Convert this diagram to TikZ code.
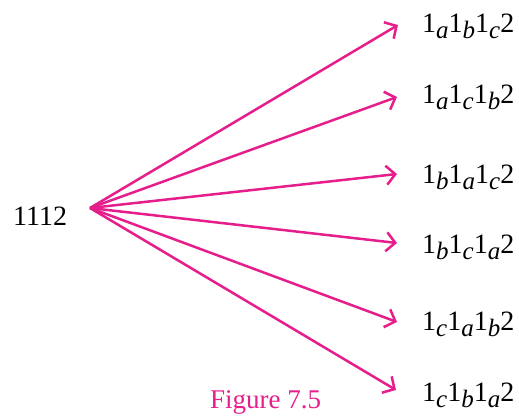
\documentclass[tikz,border=0pt]{standalone}
\usepackage{fontspec}
\setmainfont{Liberation Serif}
\usetikzlibrary{arrows.meta}

\definecolor{pinkline}{RGB}{230,30,140}
\newcommand{\lowsub}[1]{\raisebox{-0.22em}{\fontsize{25}{28}\selectfont\itshape #1}}

\begin{document}
\begin{tikzpicture}[x=1pt,y=-1pt,
    lbl/.style={anchor=base west, inner sep=0pt, font=\fontsize{28}{32}\selectfont},
    arr/.style={pinkline, line width=2.5pt, -{Straight Barb[length=9pt,width=19pt]}}]
                    \useasboundingbox (0,0) rectangle (519,415);
                    % Nodes
                    \node[anchor=base west, inner sep=0pt, font=\fontsize{28}{32}\selectfont] (root) at (13,225) {1112};
                    \coordinate (o) at (90,208);
                    \node[lbl] (t1) at (422,32) {1\lowsub{a}1\lowsub{b}1\lowsub{c}2};
                    \node[lbl] (t2) at (422,103) {1\lowsub{a}1\lowsub{c}1\lowsub{b}2};
                    \node[lbl] (t3) at (422,183) {1\lowsub{b}1\lowsub{a}1\lowsub{c}2};
                    \node[lbl] (t4) at (422,253) {1\lowsub{b}1\lowsub{c}1\lowsub{a}2};
                    \node[lbl] (t5) at (422,330) {1\lowsub{c}1\lowsub{a}1\lowsub{b}2};
                    \node[lbl] (t6) at (422,401) {1\lowsub{c}1\lowsub{b}1\lowsub{a}2};
                    \node[anchor=base west, inner sep=0pt, pinkline, font=\fontsize{27}{30}\selectfont] (cap) at (210,408) {Figure 7.5};
                    % Arrow tips
                    \coordinate (a1) at (398,25);
                    \coordinate (a2) at (397,97);
                    \coordinate (a3) at (397,174);
                    \coordinate (a4) at (397,243);
                    \coordinate (a5) at (397,322);
                    \coordinate (a6) at (396,390);
                    % Edges
                    \draw[arr] (o) -- (a1);
                    \draw[arr] (o) -- (a2);
                    \draw[arr] (o) -- (a3);
                    \draw[arr] (o) -- (a4);
                    \draw[arr] (o) -- (a5);
                    \draw[arr] (o) -- (a6);
                \end{tikzpicture}
\end{document}
